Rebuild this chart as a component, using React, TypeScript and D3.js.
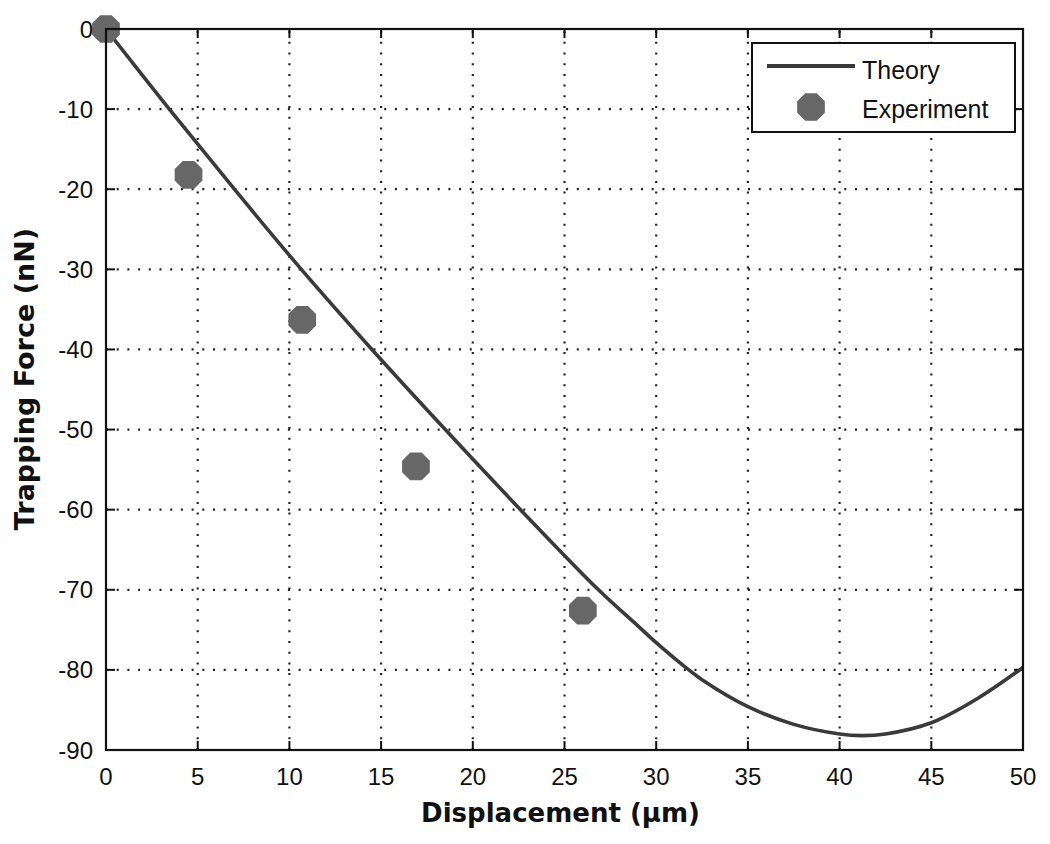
import React from "react";
import * as d3 from "d3";

const theoryX = [0, 3.45, 7.0, 10.65, 14.5, 18.5, 22.6, 26.85, 29, 30, 31.5, 32.6, 35, 37.5, 40, 41.2, 42.5, 45, 47.5, 50];
const theoryY = [0, -10, -20, -30, -40, -50, -60, -70, -74.5, -76.6, -79.5, -81.4, -84.6, -86.8, -88.0, -88.2, -88.0, -86.6, -83.6, -79.7];
const expX = [0, 4.5, 10.7, 16.9, 26.0];
const expY = [0, -18.2, -36.3, -54.6, -72.6];
const xTicks = [0, 5, 10, 15, 20, 25, 30, 35, 40, 45, 50];
const yTicks = [0, -10, -20, -30, -40, -50, -60, -70, -80, -90];

const W = 1050, H = 844;
const L = 106, R = 1023, T = 29, B = 750;

function octagon(cx: number, cy: number, r: number) {
  const pts: string[] = [];
  for (let i = 0; i < 8; i++) {
    const a = Math.PI / 8 + (i * Math.PI) / 4;
    pts.push(`${cx + r * Math.cos(a)},${cy + r * Math.sin(a)}`);
  }
  return pts.join(" ");
}

export default function App() {
  const x = d3.scaleLinear().domain([0, 50]).range([L, R]);
  const y = d3.scaleLinear().domain([-90, 0]).range([B, T]);
  const line = d3
    .line<number>()
    .x((_, i) => x(theoryX[i]))
    .y((d) => y(d))
    .curve(d3.curveCatmullRom.alpha(0.5));
  const font = "'Liberation Sans', Arial, Helvetica, sans-serif";
  const titleFont = "'DejaVu Sans', Verdana, sans-serif";
  const tick = 9;
  const mColor = "#676767";
  return (
    <svg width={W} height={H} style={{ position: "absolute", left: 0, top: 0, background: "#fff" }}>
      <rect x={0} y={0} width={W} height={H} fill="#fff" />
      {/* grid */}
      <g stroke="#222" strokeWidth={2.2} strokeDasharray="2 8.7" strokeLinecap="butt">
        {xTicks.slice(1, -1).map((t) => (
          <line key={"gx" + t} x1={x(t)} x2={x(t)} y1={B} y2={T} />
        ))}
        {yTicks.slice(1, -1).map((t) => (
          <line key={"gy" + t} x1={L} x2={R} y1={y(t)} y2={y(t)} />
        ))}
      </g>
      {/* ticks */}
      <g stroke="#111" strokeWidth={2}>
        {xTicks.map((t) => (
          <g key={"tx" + t}>
            <line x1={x(t)} x2={x(t)} y1={B} y2={B - tick} />
            <line x1={x(t)} x2={x(t)} y1={T} y2={T + tick} />
          </g>
        ))}
        {yTicks.map((t) => (
          <g key={"ty" + t}>
            <line x1={L} x2={L + tick} y1={y(t)} y2={y(t)} />
            <line x1={R} x2={R - tick} y1={y(t)} y2={y(t)} />
          </g>
        ))}
      </g>
      {/* theory line */}
      <path d={line(theoryY) || ""} fill="none" stroke="#3a3a3a" strokeWidth={3.6} />
      {/* experiment markers */}
      {expX.map((v, i) => (
        <polygon key={"m" + i} points={octagon(x(v), y(expY[i]), 15)} fill={mColor} />
      ))}
      {/* axes box */}
      <rect x={L} y={T} width={R - L} height={B - T} fill="none" stroke="#111" strokeWidth={2.2} />
      {/* tick labels */}
      <g fontFamily={font} fontSize={24} fill="#111">
        {xTicks.map((t) => (
          <text key={"lx" + t} x={x(t)} y={785} textAnchor="middle">
            {t}
          </text>
        ))}
        {yTicks.map((t) => (
          <text key={"ly" + t} x={L - 13} y={y(t) + 8.5} textAnchor="end">
            {t}
          </text>
        ))}
      </g>
      {/* axis titles */}
      <text x={(L + R) / 2 - 4} y={822} textAnchor="middle" fontFamily={titleFont} fontWeight="bold" fontSize={26} fill="#111">
        Displacement (μm)
      </text>
      <text
        transform={`translate(34, 379) rotate(-90)`}
        textAnchor="middle"
        fontFamily={titleFont}
        fontWeight="bold"
        fontSize={27}
        fill="#111"
      >
        Trapping Force (nN)
      </text>
      {/* legend */}
      <rect x={752} y={43} width={263} height={89} fill="#fff" stroke="#111" strokeWidth={2} />
      <line x1={767} x2={855} y1={66} y2={66} stroke="#3a3a3a" strokeWidth={4} />
      <polygon points={octagon(811, 107, 15)} fill={mColor} />
      <g fontFamily={font} fontSize={25} fill="#111">
        <text x={862} y={79}>Theory</text>
        <text x={862} y={118}>Experiment</text>
      </g>
    </svg>
  );
}
